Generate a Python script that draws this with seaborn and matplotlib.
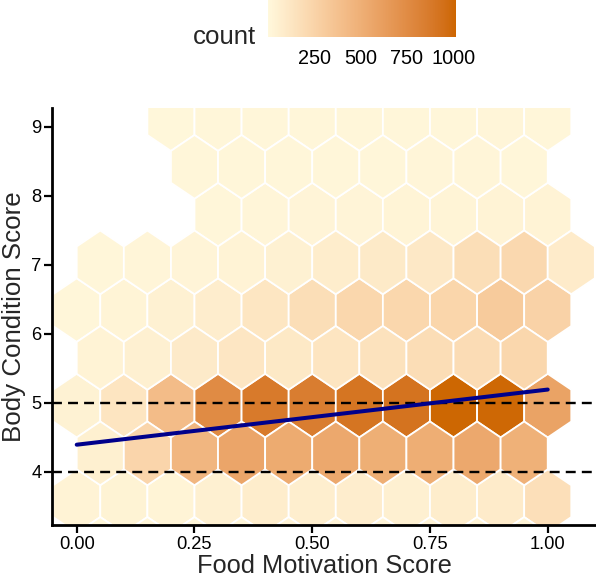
import numpy as np
import pandas as pd
import matplotlib
matplotlib.use("Agg")
import matplotlib.pyplot as plt
from matplotlib.colors import ListedColormap, Normalize, to_rgb
import seaborn as sns

# ---------------- data ----------------
# hexagon lattice rows (row index k), first column index in each row, and counts
row_k = [3, 4, 5, 6, 7, 8, 9, 10, 11, 12]
row_first_col = [0, 0, 0, 0, 0, 0, 0, 3, 2, 2]
counts_r3 = [10, 15, 20, 20, 25, 25, 25, 25, 30, 30]
counts_r4 = [35, 40, 30, 55, 80, 70, 75, 55, 80, 90, 170]
counts_r5 = [60, 240, 450, 570, 530, 550, 505, 510, 550, 490]
counts_r6 = [45, 135, 410, 750, 870, 850, 910, 920, 1010, 1000, 590]
counts_r7 = [35, 55, 95, 120, 105, 130, 150, 185, 190, 230]
counts_r8 = [20, 30, 50, 75, 125, 180, 230, 230, 235, 310, 260]
counts_r9 = [20, 22, 25, 35, 50, 80, 100, 110, 180, 220, 90]
counts_r10 = [20, 22, 25, 28, 30, 32, 35, 35]
counts_r11 = [15, 15, 18, 20, 20, 22, 22, 20]
counts_r12 = [12, 14, 16, 18, 18, 20, 20, 22, 20]
row_counts = [counts_r3, counts_r4, counts_r5, counts_r6, counts_r7,
              counts_r8, counts_r9, counts_r10, counts_r11, counts_r12]

count_limits = [1, 1015]
legend_ticks = [250, 500, 750, 1000]

fit_x = [0.0, 1.0]
fit_y = [4.39, 5.19]
ref_lines = [4, 5]

x_ticks = [0.0, 0.25, 0.5, 0.75, 1.0]
x_tick_labels = ["0.00", "0.25", "0.50", "0.75", "1.00"]
y_ticks = [4, 5, 6, 7, 8, 9]

# ---------------- hex grid geometry ----------------
BIN_W = 0.1
BIN_H = 0.8
Y0 = 0.8
ROW_STEP = BIN_H * np.sqrt(3) / 2

recs = []
for k, c0, cnts in zip(row_k, row_first_col, row_counts):
    for j, n in enumerate(cnts):
        col = c0 + j
        recs.append(dict(x=col * BIN_W + (BIN_W / 2 if k % 2 else 0.0),
                         y=Y0 + k * ROW_STEP, count=n))
df = pd.DataFrame(recs)

# ---------------- colour scale (CIELAB interpolation like ggplot) ----------------
M = np.array([[0.4124564, 0.3575761, 0.1804375],
              [0.2126729, 0.7151522, 0.0721750],
              [0.0193339, 0.1191920, 0.9503041]])
WHITE = np.array([0.95047, 1.0, 1.08883])


def srgb_to_lab(c):
    c = np.asarray(c, float)
    lin = np.where(c <= 0.04045, c / 12.92, ((c + 0.055) / 1.055) ** 2.4)
    xyz = (lin @ M.T) / WHITE
    d = 6 / 29
    f = np.where(xyz > d ** 3, np.cbrt(xyz), xyz / (3 * d ** 2) + 4 / 29)
    return np.stack([116 * f[..., 1] - 16,
                     500 * (f[..., 0] - f[..., 1]),
                     200 * (f[..., 1] - f[..., 2])], -1)


def lab_to_srgb(lab):
    d = 6 / 29
    fy = (lab[..., 0] + 16) / 116
    fx = fy + lab[..., 1] / 500
    fz = fy - lab[..., 2] / 200

    def finv(t):
        return np.where(t > d, t ** 3, 3 * d ** 2 * (t - 4 / 29))
    xyz = np.stack([finv(fx), finv(fy), finv(fz)], -1) * WHITE
    lin = np.clip(xyz @ np.linalg.inv(M).T, 0, 1)
    s = np.where(lin <= 0.0031308, 12.92 * lin, 1.055 * lin ** (1 / 2.4) - 0.055)
    return np.clip(s, 0, 1)


lab_lo = srgb_to_lab(to_rgb("cornsilk"))
lab_hi = srgb_to_lab(to_rgb("#CD6600"))
t = np.linspace(0, 1, 256)[:, None]
cmap = ListedColormap(lab_to_srgb(lab_lo + t * (lab_hi - lab_lo)))
norm = Normalize(vmin=count_limits[0], vmax=count_limits[1])

# ---------------- figure ----------------
sns.set_style("ticks")
plt.rcParams["font.family"] = ["Liberation Sans", "DejaVu Sans"]

W, H = 596, 578
fig = plt.figure(figsize=(W / 100, H / 100), dpi=100)
ax = fig.add_axes([52 / W, 53 / H, 544 / W, 417 / H])

hb = ax.hexbin(df["x"], df["y"], C=df["count"], reduce_C_function=np.sum,
               gridsize=(11, 5),
               extent=(0.0, 1.1, Y0 + 2 * ROW_STEP, Y0 + 12 * ROW_STEP),
               cmap=cmap, norm=norm, edgecolors="white", linewidths=1.3,
               zorder=1)

for yv in ref_lines:
    ax.axhline(yv, color="black", linewidth=1.7, linestyle=(0, (4.2, 2.6)),
               zorder=2)

sns.lineplot(x=fit_x, y=fit_y, ax=ax, color="darkblue", linewidth=2.9,
             zorder=3)

ax.set_xlim(-0.0525, 1.1025)
ax.set_ylim(3.225, 9.275)
ax.set_xticks(x_ticks)
ax.set_xticklabels(x_tick_labels)
ax.set_yticks(y_ticks)
ax.tick_params(axis="both", length=5.5, width=1.6, color="black",
               labelsize=13.2, labelcolor="black")
ax.tick_params(axis="x", pad=2.5)
ax.tick_params(axis="y", pad=2)
sns.despine(ax=ax)
for s in ("left", "bottom"):
    ax.spines[s].set_linewidth(2.0)
    ax.spines[s].set_color("black")
ax.set_xlabel("Food Motivation Score", fontsize=18.3, labelpad=0.5)
ax.set_ylabel("Body Condition Score", fontsize=18.6, labelpad=3.5)
ax.set_facecolor("white")

# legend colour bar at top
cax = fig.add_axes([268 / W, 1 - 37 / H, 188 / W, 37 / H])
cb = fig.colorbar(hb, cax=cax, orientation="horizontal", ticks=legend_ticks)
cb.outline.set_visible(False)
cax.tick_params(which="both", direction="in", length=7, width=1.0,
                color="white", labelcolor="black", top=True, bottom=True,
                labeltop=False, labelbottom=True, pad=9.0, labelsize=14.3)
cax.minorticks_off()
fig.text(256 / W, 1 - 44.5 / H, "count", ha="right", va="baseline",
         fontsize=18.6)

fig.savefig("out.png", dpi=100, facecolor="white")
